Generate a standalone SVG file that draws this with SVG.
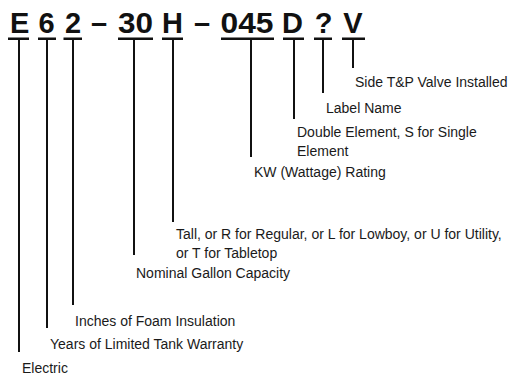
<svg xmlns="http://www.w3.org/2000/svg" width="521" height="377" viewBox="0 0 521 377">
<style>
.code{font-family:"Liberation Sans",Arial,sans-serif;font-weight:bold;font-size:29px;fill:#111;text-anchor:middle}
.lbl{font-family:"Liberation Sans",Arial,sans-serif;font-size:14px;fill:#1a1a1a}
.ul{fill:#111}
.conn line{stroke:#111;stroke-width:2}
</style>
<rect width="521" height="377" fill="#fff"/>
<g id="dashes">
<text class="code" x="99" y="33">–</text>
<text class="code" x="202" y="33">–</text>
</g>
<g id="code-E"><text class="code" x="19.7" y="33">E</text><rect class="ul" x="8" y="37.5" width="21" height="2.5"/><text class="lbl" x="22" y="373">Electric</text></g>
<g id="code-6"><text class="code" x="46.5" y="33">6</text><rect class="ul" x="38" y="37.5" width="18" height="2.5"/><text class="lbl" x="50" y="349">Years of Limited Tank Warranty</text></g>
<g id="code-2"><text class="code" x="73" y="33">2</text><rect class="ul" x="63.5" y="37.5" width="18.5" height="2.5"/><text class="lbl" x="75" y="326">Inches of Foam Insulation</text></g>
<g id="code-30"><text class="code" x="135.5" y="33" textLength="35" lengthAdjust="spacingAndGlyphs">30</text><rect class="ul" x="118" y="37.5" width="35" height="2.5"/><text class="lbl" x="136" y="278">Nominal Gallon Capacity</text></g>
<g id="code-H"><text class="code" x="172.5" y="33">H</text><rect class="ul" x="162" y="37.5" width="21" height="2.5"/><text class="lbl" x="176" y="239">Tall, or R for Regular, or L for Lowboy, or U for Utility,</text><text class="lbl" x="176" y="258">or T for Tabletop</text></g>
<g id="code-045"><text class="code" x="247" y="33" textLength="53" lengthAdjust="spacingAndGlyphs">045</text><rect class="ul" x="221" y="37.5" width="53" height="2.5"/><text class="lbl" x="254" y="177">KW (Wattage) Rating</text></g>
<g id="code-D"><text class="code" x="292.5" y="33">D</text><rect class="ul" x="283" y="37.5" width="21" height="2.5"/><text class="lbl" x="297" y="137">Double Element, S for Single</text><text class="lbl" x="297" y="156">Element</text></g>
<g id="code-Q"><text class="code" x="323.5" y="33">?</text><rect class="ul" x="314" y="37.5" width="18" height="2.5"/><text class="lbl" x="326" y="113">Label Name</text></g>
<g id="code-V"><text class="code" x="353" y="33">V</text><rect class="ul" x="342" y="37.5" width="23" height="2.5"/><text class="lbl" x="355" y="87">Side T&amp;P Valve Installed</text></g>
<g id="connectors" class="conn">
<line x1="19" y1="40" x2="19" y2="352"/>
<line x1="47" y1="40" x2="47" y2="328"/>
<line x1="73" y1="40" x2="73" y2="305"/>
<line x1="134" y1="40" x2="134" y2="255"/>
<line x1="173" y1="40" x2="173" y2="222"/>
<line x1="251" y1="40" x2="251" y2="157"/>
<line x1="294" y1="40" x2="294" y2="119"/>
<line x1="323" y1="40" x2="323" y2="93"/>
<line x1="353" y1="40" x2="353" y2="68"/>
</g>
</svg>
